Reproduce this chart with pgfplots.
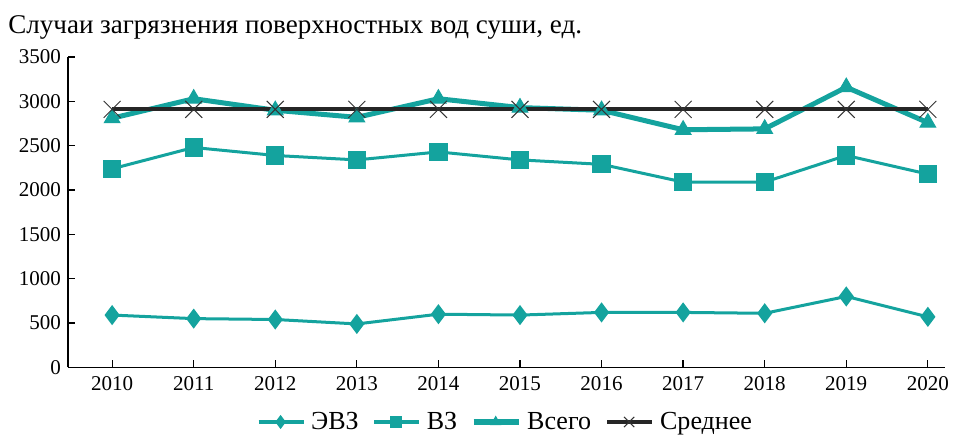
\documentclass[border=0pt]{standalone}
\usepackage{fontspec}
\setmainfont{Liberation Serif}
\usepackage{pgfplots}
\pgfplotsset{compat=1.18}
\definecolor{teal1}{RGB}{20,163,158}
\begin{document}
\begin{tikzpicture}
\begin{axis}[
  name=ax,
  scale only axis,
  width=438pt, height=155pt,
  xmin=2009.46, xmax=2020.21,
  ymin=0, ymax=3500,
  axis lines*=left,
  axis line style={line width=0.6pt, -},
  tick align=inside,
  major tick length=3.5pt,
  tick style={black, line width=0.6pt},
  xtick={2010,...,2020},
  ytick={0,500,...,3500},
  x tick label style={/pgf/number format/1000 sep={}, yshift=-1pt},
  /pgf/number format/assume math mode=true,
  yticklabel style={/pgf/number format/1000 sep={}},
  font=\fontsize{10.5pt}{12pt}\selectfont,
  clip=false,
  legend style={at={(0.5,-0.176)}, anchor=center, draw=none, legend columns=4, inner sep=1pt,
    /tikz/every even column/.append style={column sep=5pt},
    /tikz/every odd column/.append style={column sep=1pt},
    font=\fontsize{13pt}{14pt}\selectfont},
  legend image code/.code={\draw[#1, every mark/.append style={scale=0.6}] (0pt,0pt) -- (11pt,0pt) plot coordinates {(11pt,0pt)} -- (22.5pt,0pt);},
]
\addplot[teal1, line width=1.5pt, mark=diamond*, mark size=3.8pt, mark options={solid, fill=teal1}] coordinates {
(2010,590)(2011,550)(2012,540)(2013,490)(2014,600)(2015,590)(2016,620)(2017,620)(2018,610)(2019,800)(2020,570)};
\addlegendentry{ЭВЗ}
\addplot[teal1, line width=1.5pt, mark=square*, mark size=3.8pt, mark options={solid, fill=teal1}] coordinates {
(2010,2240)(2011,2480)(2012,2390)(2013,2340)(2014,2430)(2015,2340)(2016,2290)(2017,2090)(2018,2090)(2019,2390)(2020,2180)};
\addlegendentry{ВЗ}
\addplot[teal1, line width=2.5pt, mark=triangle*, mark size=4.5pt, mark options={solid, fill=teal1, line width=0.5pt}] coordinates {
(2010,2810)(2011,3030)(2012,2900)(2013,2820)(2014,3030)(2015,2930)(2016,2900)(2017,2680)(2018,2690)(2019,3160)(2020,2760)};
\addlegendentry{Всего}
\addplot[black!85, line width=2pt, mark=x, mark size=6pt, mark options={solid, line width=0.5pt, black!80}] coordinates {
(2010,2910)(2011,2910)(2012,2910)(2013,2910)(2014,2910)(2015,2910)(2016,2910)(2017,2910)(2018,2910)(2019,2910)(2020,2910)};
\addlegendentry{Среднее}
\node[anchor=base west, inner sep=0pt, font=\fontsize{13.5pt}{15pt}\selectfont] at ([xshift=-30pt, yshift=12pt]rel axis cs:0,1) {Случаи загрязнения поверхностных вод суши, ед.};
\end{axis}
\pgfresetboundingbox
\path ([xshift=-34pt, yshift=28.5pt]ax.north west) rectangle ([xshift=7pt, yshift=-33.5pt]ax.south east);
\end{tikzpicture}
\end{document}
